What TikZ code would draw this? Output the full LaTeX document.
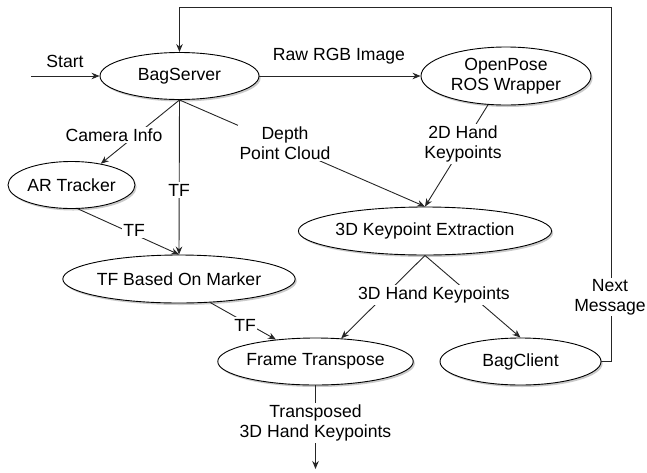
\documentclass[tikz,border=0pt]{standalone}
\usepackage{fontspec}
\setmainfont{Liberation Sans}
\usetikzlibrary{shapes.geometric,arrows.meta,shadows}

\begin{document}
\begin{tikzpicture}[x=1pt,y=-1pt,
  every node/.style={font=\fontsize{17.6}{20}\selectfont, align=center},
  proc/.style={ellipse, draw=black, line width=0.9pt, fill=white, inner sep=0pt,
    drop shadow={shadow xshift=1.6pt, shadow yshift=-2pt, fill=black!35, opacity=0.6}},
  link/.style={draw=black!85, line width=0.9pt},
  arr/.style={link, -{Stealth[length=8pt,width=6.5pt]}},
  lbl/.style={fill=white, inner sep=1.5pt}]

\useasboundingbox (0,0) rectangle (647,472);

% processing stages
\node[proc, minimum width=159pt, minimum height=47pt] (bag) at (179.5,76) {BagServer};
\node[proc, minimum width=170pt, minimum height=58pt] (op) at (506,76) {OpenPose\\ROS Wrapper};
\node[proc, minimum width=127pt, minimum height=47pt] (ar) at (71.5,185) {AR Tracker};
\node[proc, minimum width=218pt, minimum height=48pt] (tfm) at (179,279) {TF Based On Marker};
\node[proc, minimum width=214pt, minimum height=48pt] (key) at (425,231) {3D Keypoint Extraction};
\node[proc, minimum width=157pt, minimum height=47pt] (ft) at (315.5,361.5) {Frame Transpose};
\node[proc, minimum width=161pt, minimum height=47pt] (bc) at (520.5,361.5) {BagClient};

% free ends and corners
\coordinate (in) at (31,76);
\coordinate (out) at (315.5,469);
\coordinate (loop) at (611,7);

% connectors
\draw[arr] (in) -- (bag.west);
\draw[arr] (bag.east) -- (op.west);
\draw[arr] (bag.south) -- (ar.36);
\draw[arr] (bag.south) -- (tfm.north);
\draw[arr] (bag.south) -- (key.north);
\draw[arr] (op.238) -- (key.north);
\draw[arr] (ar.285) -- (tfm.north);
\draw[arr] (tfm.323) -- (ft.151);
\draw[arr] (key.south) -- (ft.42);
\draw[arr] (key.south) -- (bc.north);
\draw[arr] (ft.south) -- (out);
\draw[arr] (bc.east) -| (loop) -| (bag.north);

% connector labels
\node (lstart) at (65,61) {Start};
\node (lraw) at (339,56) {Raw RGB Image};
\node[lbl] (lcam) at (114,135) {Camera Info};
\node[lbl] (ltf1) at (179,190) {TF};
\node[lbl] (ldepth) at (285,143) {Depth\\Point Cloud};
\node[lbl] (l2d) at (463,144) {2D Hand\\Keypoints};
\node[lbl] (ltf2) at (134,230) {TF};
\node[lbl] (ltf3) at (245,325) {TF};
\node[lbl] (l3d) at (434,295) {3D Hand Keypoints};
\node[lbl] (ltr) at (315.5,423) {Transposed\\3D Hand Keypoints};
\node[lbl] (lnext) at (610,297) {Next\\Message};
\end{tikzpicture}
\end{document}
